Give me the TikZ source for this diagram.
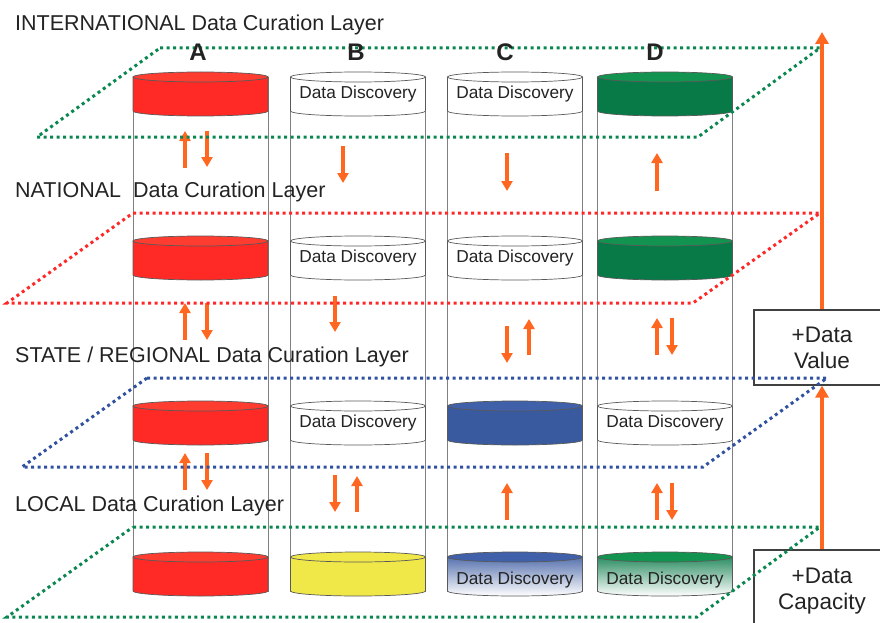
\documentclass[tikz,border=0pt]{standalone}
\usepackage{fontspec}
\setmainfont{Liberation Sans}
\usepackage{tikz}
\usetikzlibrary{arrows.meta, positioning, shadings}

\definecolor{curred}{RGB}{255,42,38}
\definecolor{curredtop}{RGB}{255,60,48}
\definecolor{curgreen}{RGB}{8,122,72}
\definecolor{curgreentop}{RGB}{18,148,80}
\definecolor{curblue}{RGB}{58,90,160}
\definecolor{curbluetop}{RGB}{64,96,170}
\definecolor{curyellow}{RGB}{240,232,72}
\definecolor{flowor}{RGB}{255,102,32}
\definecolor{dotgreen}{RGB}{10,135,80}
\definecolor{dotred}{RGB}{255,40,40}
\definecolor{dotblue}{RGB}{48,80,160}
\definecolor{inkgray}{RGB}{35,35,35}

\begin{document}
\begin{tikzpicture}[x=1pt, y=-1pt,
    disk/.style={draw=black!65, line width=0.7pt},
    tube/.style={draw=black!50, line width=0.7pt},
    layer/.style={line width=3pt, dash pattern=on 3pt off 3.5pt},
    flow/.style={draw=flowor, line width=3.4pt, -{Triangle[width=11pt, length=10pt]}},
    bigflow/.style={draw=flowor, line width=3.6pt, -{Triangle[width=13pt, length=12pt]}},
    layertext/.style={anchor=base west, inner sep=0pt, text=inkgray, font=\fontsize{21.5}{24}\selectfont},
    coltext/.style={text=inkgray, font=\bfseries\fontsize{24}{26}\selectfont},
    ddtext/.style={text=inkgray, font=\fontsize{17.3}{20}\selectfont},
    gainbox/.style={draw=black!75, line width=1.2pt, fill=white, minimum width=136pt, align=center, text=inkgray, font=\fontsize{22.5}{26}\selectfont}
]
    \clip (0,0) rectangle (880,623);

    % Tall cylinders
    \foreach \cx in {200.5, 358, 515, 665} {
        \draw[tube] (\cx-67.5,77) -- (\cx-67.5,592) (\cx+67.5,77) -- (\cx+67.5,592);
    }

    % Coloured disks
    \foreach \cx/\cy/\side/\capcol in {200.5/77/curred/curredtop, 200.5/241/curred/curredtop, 200.5/406/curred/curredtop, 200.5/557/curred/curredtop,
        358/557/curyellow/curyellow, 515/406/curblue/curbluetop, 665/77/curgreen/curgreentop, 665/241/curgreen/curgreentop} {
        \filldraw[disk, fill=\side] (\cx-67.5,\cy) -- (\cx-67.5,\cy+34) arc[start angle=180, end angle=0, x radius=67.5, y radius=5] -- (\cx+67.5,\cy) -- cycle;
        \filldraw[disk, fill=\capcol] (\cx,\cy) ellipse[x radius=67.5, y radius=5];
    }

    % Data Discovery disks
    \foreach \cx/\cy [count=\i] in {358/77, 358/241, 358/406, 515/77, 515/241, 665/406} {
        \filldraw[disk, fill=white] (\cx-67.5,\cy) -- (\cx-67.5,\cy+34) arc[start angle=180, end angle=0, x radius=67.5, y radius=5] -- (\cx+67.5,\cy) -- cycle;
        \filldraw[disk, fill=white] (\cx,\cy) ellipse[x radius=67.5, y radius=5];
        \node[ddtext] (dd\i) at (\cx,\cy+17) {Data Discovery};
    }

    % Faded disks at the bottom
    \draw[disk, top color=curblue!85, middle color=curblue!35, bottom color=white] (447.5,557) -- (447.5,591) arc[start angle=180, end angle=0, x radius=67.5, y radius=5] -- (582.5,557) -- cycle;
    \filldraw[disk, fill=curbluetop] (515,557) ellipse[x radius=67.5, y radius=5];
    \node[ddtext] (ddblue) at (515,580) {Data Discovery};
    \draw[disk, top color=curgreen!85, middle color=curgreen!35, bottom color=white] (597.5,557) -- (597.5,591) arc[start angle=180, end angle=0, x radius=67.5, y radius=5] -- (732.5,557) -- cycle;
    \filldraw[disk, fill=curgreentop] (665,557) ellipse[x radius=67.5, y radius=5];
    \node[ddtext] (ddgreen) at (665,580) {Data Discovery};

    % Flows between layers
    \foreach \ax/\ya/\yb in {185/168/131, 207/131/167, 185/340/303, 207/303/340, 185/490/453, 207/453/490,
        343/146/183, 335/296/332, 335/475/512, 357/512/476,
        507/153/191, 507/326/363, 529/355/319, 507/520/483,
        657/191/153, 657/355/318, 672/318/355, 657/520/483, 672/483/520} {
        \draw[flow] (\ax,\ya) -- (\ax,\yb);
    }

    % Value boxes
    \node[gainbox, minimum height=75pt] (value) at (822,347.5) {+Data\\Value};
    \node[gainbox, minimum height=82pt] (capacity) at (822,591) {+Data\\Capacity};
    \coordinate (apex) at (822,32);
    \draw[bigflow] (capacity.north) -- (value.south);
    \draw[bigflow] (value.north) -- (apex);

    % Curation layers
    \draw[layer, dotgreen] (160,48) -- (820,48) -- (698,137) -- (37,137) -- cycle;
    \draw[layer, dotred] (133,213) -- (820,213) -- (693,303) -- (7,303) -- cycle;
    \draw[layer, dotblue] (147,378) -- (827,378) -- (703,467) -- (22,467) -- cycle;
    \draw[layer, dotgreen] (133,527) -- (820,527) -- (697,617) -- (7,617) -- cycle;

    \node[layertext] (intl) at (15,31) {INTERNATIONAL Data Curation Layer};
    \node[layertext] (natl) at (15,197) {NATIONAL\ \ Data Curation Layer};
    \node[layertext] (state) at (15,362) {STATE / REGIONAL Data Curation Layer};
    \node[layertext] (local) at (15,511) {LOCAL Data Curation Layer};

    \foreach \cx/\lab in {198/A, 356/B, 505/C, 655/D} {
        \node[coltext] (col\lab) at (\cx,52) {\lab};
    }
\end{tikzpicture}
\end{document}
